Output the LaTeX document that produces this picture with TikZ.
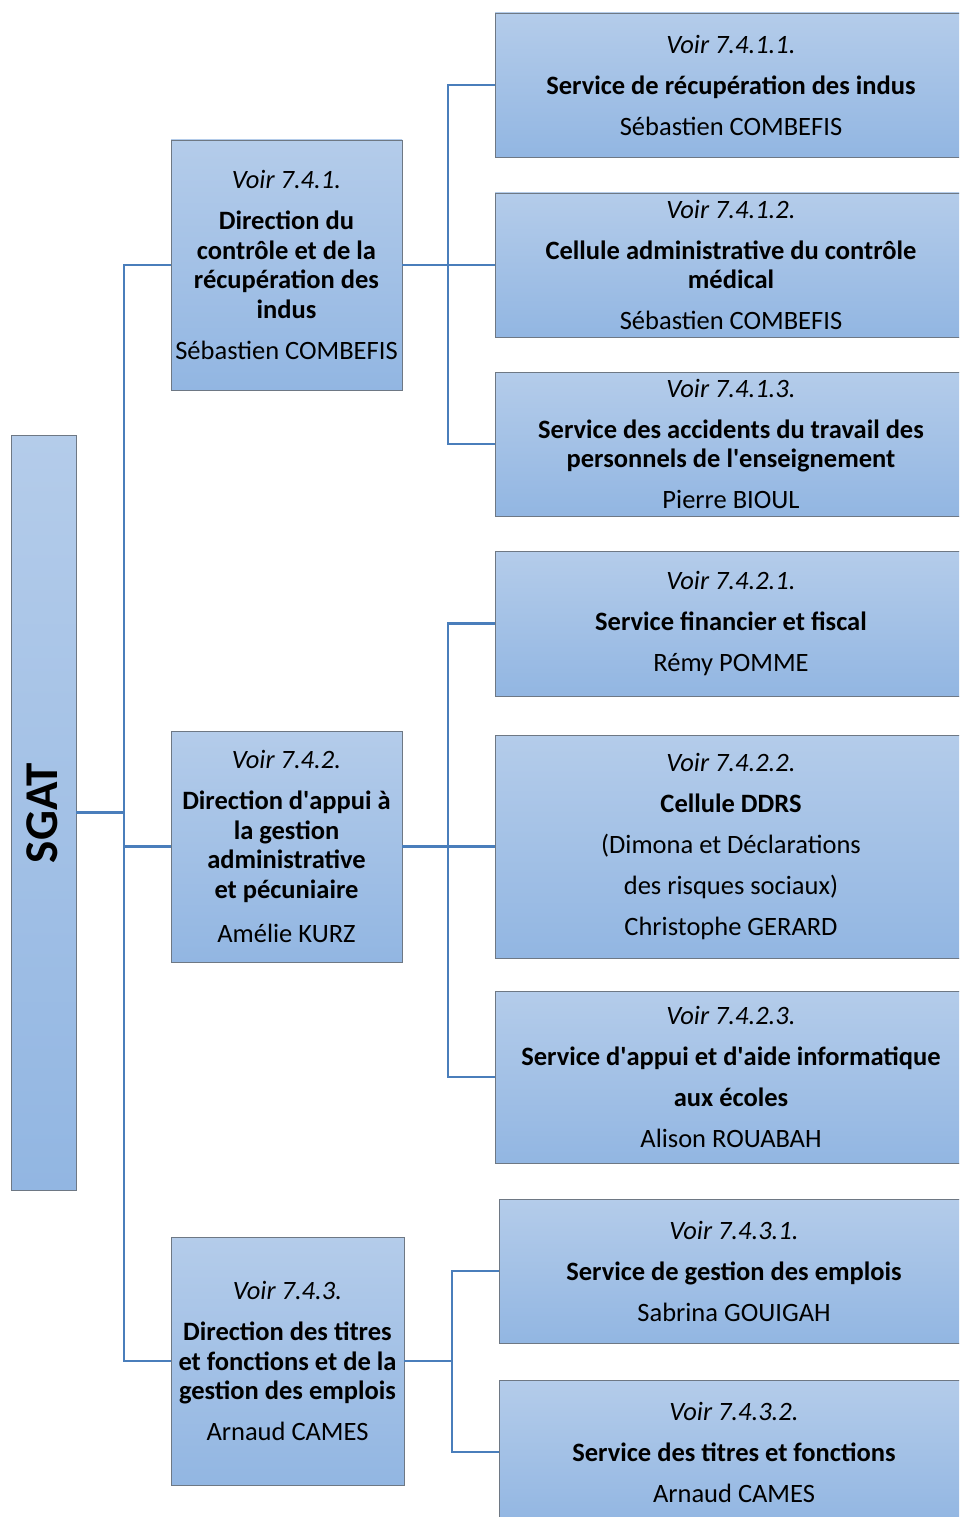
\documentclass[tikz,border=0pt]{standalone}
\usepackage{fontspec}
\setmainfont{Carlito}
\definecolor{boxtop}{RGB}{180,204,234}
\definecolor{boxbottom}{RGB}{146,182,226}
\definecolor{boxline}{RGB}{110,120,132}
\definecolor{linkblue}{RGB}{74,126,187}
\newcommand{\gap}{\\[11.5pt]}
\newcommand{\apos}{\textquotesingle}
\begin{document}
\begin{tikzpicture}[x=1pt, y=-1pt]
            \tikzstyle{unit}=[draw=boxline, thick, top color=boxtop, bottom color=boxbottom, inner sep=0pt, align=center, font=\fontsize{26.5}{29.5}\selectfont]
            \tikzstyle{direction}=[unit, minimum width=231, minimum height=250]
            \tikzstyle{service}=[unit, minimum width=472, minimum height=144]
            \tikzstyle{link}=[linkblue, line width=2.6pt]
            \clip (0, 0) rectangle (959, 1517);
            % level 0
            \node [unit, minimum width=65, minimum height=755] (sgat) at (43.5, 812.5) {};
            \node [rotate=90, font=\fontsize{47}{50}\selectfont\bfseries] (sgatlabel) at (42, 813) {SGAT};
            % level 1
            \node [direction] (d1) at (286.5, 265) {\textit{Voir 7.4.1.}\gap\textbf{Direction du}\\\textbf{contrôle et de la}\\\textbf{récupération des}\\\textbf{indus}\gap Sébastien COMBEFIS};
            \node [direction, minimum height=231] (d2) at (286.5, 846.5) {\textit{Voir 7.4.2.}\gap\textbf{Direction d\apos appui à}\\\textbf{la gestion}\\\textbf{administrative}\\\textbf{et pécuniaire}\\[15pt]Amélie KURZ};
            \node [direction, minimum width=233, minimum height=248] (d3) at (287.5, 1361) {\textit{Voir 7.4.3.}\gap\textbf{Direction des titres}\\\textbf{et fonctions et de la}\\\textbf{gestion des emplois}\gap Arnaud CAMES};
            % level 2
            \node [service] (s11) at (731, 85) {\textit{Voir 7.4.1.1.}\gap\textbf{Service de récupération des indus}\gap Sébastien COMBEFIS};
            \node [service] (s12) at (731, 265) {\textit{Voir 7.4.1.2.}\gap\textbf{Cellule administrative du contrôle}\\\textbf{médical}\gap Sébastien COMBEFIS};
            \node [service] (s13) at (731, 444) {\textit{Voir 7.4.1.3.}\gap\textbf{Service des accidents du travail des}\\\textbf{personnels de l\apos enseignement}\gap Pierre BIOUL};
            \node [service, minimum height=145] (s21) at (731, 623.5) {\textit{Voir 7.4.2.1.}\gap\textbf{Service financier et fiscal}\gap Rémy POMME};
            \node [service, minimum height=223] (s22) at (731, 846.5) {\textit{Voir 7.4.2.2.}\gap\textbf{Cellule DDRS}\gap(Dimona et Déclarations\gap des risques sociaux)\gap Christophe GERARD};
            \node [service, minimum height=172] (s23) at (731, 1077) {\textit{Voir 7.4.2.3.}\gap\textbf{Service d\apos appui et d\apos aide informatique}\gap\textbf{aux écoles}\gap Alison ROUABAH};
            \node [service, minimum width=470] (s31) at (734, 1271) {\textit{Voir 7.4.3.1.}\gap\textbf{Service de gestion des emplois}\gap Sabrina GOUIGAH};
            \node [service, minimum width=470] (s32) at (734, 1452) {\textit{Voir 7.4.3.2.}\gap\textbf{Service des titres et fonctions}\gap Arnaud CAMES};
            % connectors
            \coordinate (trunk) at (124, 812.5);
            \coordinate (bus1) at (448, 265);
            \coordinate (bus2) at (448, 846.5);
            \coordinate (bus3) at (452, 1361);
            \draw [link] (d1.west) -| (trunk) |- (d3.west);
            \draw [link] (sgat.east) -- (trunk);
            \draw [link] (d2.west) -- (d2.west -| trunk);
            \draw [link] (s11.west) -| (bus1) |- (s13.west);
            \draw [link] (d1.east) -- (s12.west);
            \draw [link] (s21.west) -| (bus2) |- (s23.west);
            \draw [link] (d2.east) -- (s22.west);
            \draw [link] (s31.west) -| (bus3) |- (s32.west);
            \draw [link] (d3.east) -- (bus3);
\end{tikzpicture}
\end{document}
